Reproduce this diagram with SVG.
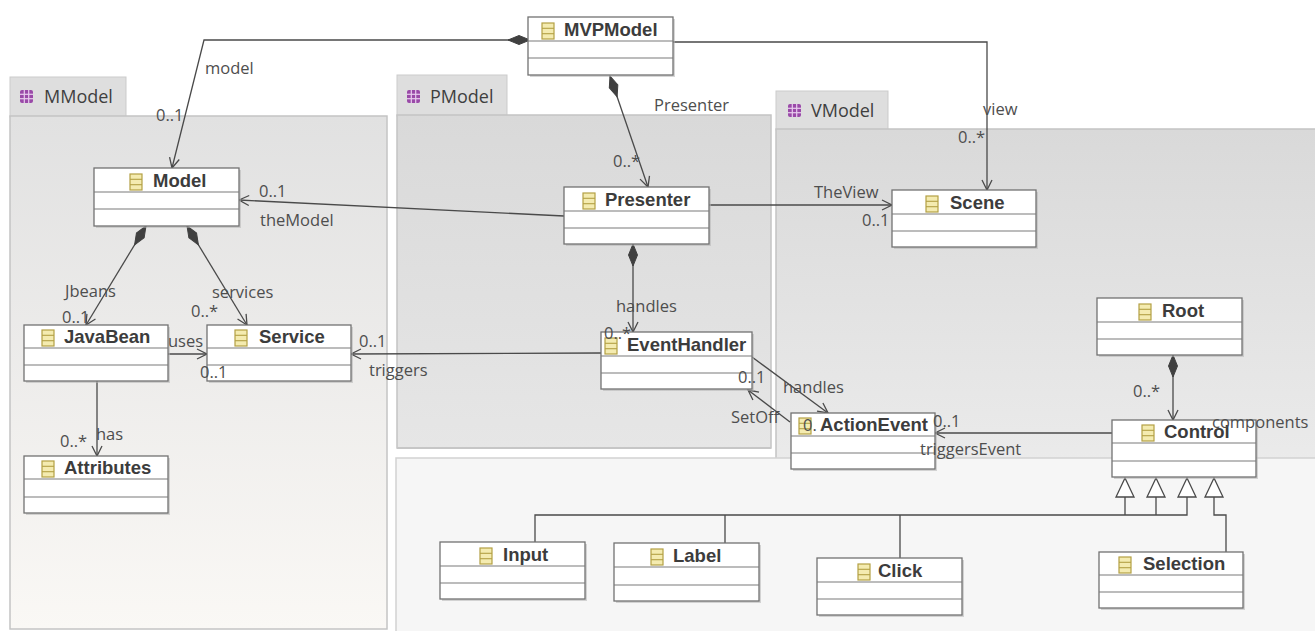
<svg xmlns="http://www.w3.org/2000/svg" xmlns:xlink="http://www.w3.org/1999/xlink" width="1315" height="631" viewBox="0 0 1315 631">
<style>
.pkg{stroke:#c4c4c4;stroke-width:1.5}
.tab{fill:#dedede;stroke:#cbcbcb;stroke-width:1}
.tabt{font-family:"Open Sans","Noto Sans",sans-serif;font-size:18px;fill:#3f3f3f}
.box{fill:#ffffff;stroke:#727272;stroke-width:1.3}
.sh{fill:#b4b4b4;opacity:0.55}
.sep{stroke:#7a7a7a;stroke-width:1.2}
.cn{font-family:"Liberation Sans",Arial,sans-serif;font-weight:bold;font-size:18.5px;fill:#3c3c3c}
.lbl{font-family:"Open Sans","Noto Sans",sans-serif;font-size:16.5px;fill:#4e4e4e}
.cx{fill:none;stroke:#4a4a4a;stroke-width:1.3}
.gen{fill:#ffffff;stroke:#4a4a4a;stroke-width:1.3}
</style>
<defs>
<linearGradient id="gM" x1="0" y1="0" x2="0" y2="1"><stop offset="0" stop-color="#e1e1e1"/><stop offset="1" stop-color="#faf8f5"/></linearGradient>
<linearGradient id="gP" x1="0" y1="0" x2="0" y2="1"><stop offset="0" stop-color="#d9d9d9"/><stop offset="1" stop-color="#e6e6e6"/></linearGradient>
<linearGradient id="gV" x1="0" y1="0" x2="0" y2="1"><stop offset="0" stop-color="#d9d9d9"/><stop offset="1" stop-color="#f4f4f4"/></linearGradient>
<g id="ci"><rect x="0" y="0" width="12" height="16" fill="#f4ebb0" stroke="#b3a044" stroke-width="1.2"/><line x1="0" y1="5.3" x2="12" y2="5.3" stroke="#b3a044" stroke-width="1.1"/><line x1="0" y1="10.7" x2="12" y2="10.7" stroke="#b3a044" stroke-width="1.1"/></g>
<g id="pi"><rect x="0" y="0" width="13" height="13" rx="2" fill="#9a4aa8"/><line x1="4.3" y1="0" x2="4.3" y2="13" stroke="#e8cdee" stroke-width="1.2"/><line x1="8.7" y1="0" x2="8.7" y2="13" stroke="#e8cdee" stroke-width="1.2"/><line x1="0" y1="4.3" x2="13" y2="4.3" stroke="#e8cdee" stroke-width="1.2"/><line x1="0" y1="8.7" x2="13" y2="8.7" stroke="#e8cdee" stroke-width="1.2"/></g>
<marker id="arr" markerUnits="userSpaceOnUse" markerWidth="14" markerHeight="14" refX="0" refY="0" orient="auto" overflow="visible"><path d="M-10,-5 L0,0 L-10,5" fill="none" stroke="#4a4a4a" stroke-width="1.3"/></marker>
<marker id="dia" markerUnits="userSpaceOnUse" markerWidth="24" markerHeight="12" refX="0" refY="0" orient="auto" overflow="visible"><path d="M0,0 L11,-4.5 L22,0 L11,4.5 Z" fill="#404040" stroke="#404040" stroke-width="1"/></marker>
</defs>
<rect width="1315" height="631" fill="#ffffff"/>
<g id="packages">
<g id="pkg-mmodel"><rect class="tab" x="10" y="77" width="116" height="40"/><rect class="pkg" x="10" y="116" width="377" height="513" fill="url(#gM)"/><use href="#pi" x="20" y="90"/><text class="tabt" x="44" y="103">MModel</text></g>
<g id="pkg-pmodel"><rect class="tab" x="397" y="75" width="110" height="41"/><rect class="pkg" x="397" y="115" width="374" height="333" fill="url(#gP)"/><use href="#pi" x="407" y="90"/><text class="tabt" x="430" y="103">PModel</text></g>
<g id="pkg-vmodel"><rect class="tab" x="776" y="91" width="112" height="39"/><rect class="pkg" x="776" y="129" width="545" height="510" fill="url(#gV)"/><use href="#pi" x="788" y="104"/><text class="tabt" x="811" y="117">VModel</text></g>
<rect x="396" y="458" width="925" height="180" fill="#f6f6f6" stroke="#d2d2d2" stroke-width="1.5"/>
<rect x="397" y="447" width="374" height="2" fill="#c6c6c6"/>
</g>
<g id="connectors">
<path class="cx" d="M508,40 L204,40 L172,168" marker-end="url(#arr)"/>
<path class="cx" d="M508,40 L528,40" marker-start="url(#dia)"/>
<path class="cx" d="M673,42 L987,42 L987,190" marker-end="url(#arr)"/>
<path class="cx" d="M610,76 L648,187" marker-start="url(#dia)" marker-end="url(#arr)"/>
<path class="cx" d="M564,216 L239,200" marker-end="url(#arr)"/>
<path class="cx" d="M709,205 L892,205" marker-end="url(#arr)"/>
<path class="cx" d="M146,226 L86,325" marker-start="url(#dia)" marker-end="url(#arr)"/>
<path class="cx" d="M187,226 L247,325" marker-start="url(#dia)" marker-end="url(#arr)"/>
<path class="cx" d="M168,354 L207,354" marker-end="url(#arr)"/>
<path class="cx" d="M97,381 L97,456" marker-end="url(#arr)"/>
<path class="cx" d="M601,353 L351,354" marker-end="url(#arr)"/>
<path class="cx" d="M633,244 L633,332" marker-start="url(#dia)" marker-end="url(#arr)"/>
<path class="cx" d="M752,357 L828,413" marker-end="url(#arr)"/>
<path class="cx" d="M790,422 L748,390" marker-end="url(#arr)"/>
<path class="cx" d="M1112,433 L935,433" marker-end="url(#arr)"/>
<path class="cx" d="M1173,355 L1173,420" marker-start="url(#dia)" marker-end="url(#arr)"/>
<path class="cx" d="M1125,497 L1125,515 M1156,497 L1156,515 M1187,497 L1187,515 L535,515 L535,542 M725,515 L725,543 M900,515 L900,558 M1214,497 L1214,515 L1226,515 L1226,552"/>
<polygon class="gen" points="1125,478 1134,497 1116,497"/>
<polygon class="gen" points="1156,478 1165,497 1147,497"/>
<polygon class="gen" points="1187,478 1196,497 1178,497"/>
<polygon class="gen" points="1214,478 1223,497 1205,497"/>
</g>
<g id="n-mvpmodel" transform="translate(528,17)"><rect class="sh" x="2" y="2" width="145" height="58"/><rect class="box" width="145" height="58"/><line class="sep" x1="0" y1="24" x2="145" y2="24"/><line class="sep" x1="0" y1="41" x2="145" y2="41"/><use href="#ci" x="14" y="6"/><text class="cn" x="36" y="19">MVPModel</text></g>
<g id="n-model" transform="translate(94,168)"><rect class="sh" x="2" y="2" width="145" height="58"/><rect class="box" width="145" height="58"/><line class="sep" x1="0" y1="24" x2="145" y2="24"/><line class="sep" x1="0" y1="41" x2="145" y2="41"/><use href="#ci" x="36" y="6"/><text class="cn" x="59" y="19">Model</text></g>
<g id="n-presenter" transform="translate(564,187)"><rect class="sh" x="2" y="2" width="145" height="57"/><rect class="box" width="145" height="57"/><line class="sep" x1="0" y1="24" x2="145" y2="24"/><line class="sep" x1="0" y1="41" x2="145" y2="41"/><use href="#ci" x="19" y="6"/><text class="cn" x="41" y="19">Presenter</text></g>
<g id="n-scene" transform="translate(892,190)"><rect class="sh" x="2" y="2" width="144" height="57"/><rect class="box" width="144" height="57"/><line class="sep" x1="0" y1="24" x2="144" y2="24"/><line class="sep" x1="0" y1="41" x2="144" y2="41"/><use href="#ci" x="34" y="6"/><text class="cn" x="58" y="19">Scene</text></g>
<g id="n-javabean" transform="translate(24,325)"><rect class="sh" x="2" y="2" width="144" height="56"/><rect class="box" width="144" height="56"/><line class="sep" x1="0" y1="23" x2="144" y2="23"/><line class="sep" x1="0" y1="40" x2="144" y2="40"/><use href="#ci" x="18" y="5"/><text class="cn" x="40" y="18">JavaBean</text></g>
<g id="n-service" transform="translate(207,325)"><rect class="sh" x="2" y="2" width="144" height="56"/><rect class="box" width="144" height="56"/><line class="sep" x1="0" y1="23" x2="144" y2="23"/><line class="sep" x1="0" y1="40" x2="144" y2="40"/><use href="#ci" x="28" y="5"/><text class="cn" x="52" y="18">Service</text></g>
<g id="n-attributes" transform="translate(24,456)"><rect class="sh" x="2" y="2" width="144" height="57"/><rect class="box" width="144" height="57"/><line class="sep" x1="0" y1="23" x2="144" y2="23"/><line class="sep" x1="0" y1="41" x2="144" y2="41"/><use href="#ci" x="18" y="5"/><text class="cn" x="40" y="18">Attributes</text></g>
<g id="n-eventhandler" transform="translate(601,332)"><rect class="sh" x="2" y="2" width="151" height="57"/><rect class="box" width="151" height="57"/><line class="sep" x1="0" y1="24" x2="151" y2="24"/><line class="sep" x1="0" y1="41" x2="151" y2="41"/><use href="#ci" x="4" y="6"/><text class="cn" x="26" y="19">EventHandler</text></g>
<g id="n-actionevent" transform="translate(791,413)"><rect class="sh" x="2" y="2" width="144" height="56"/><rect class="box" width="144" height="56"/><line class="sep" x1="0" y1="23" x2="144" y2="23"/><line class="sep" x1="0" y1="40" x2="144" y2="40"/><use href="#ci" x="8" y="5"/><text class="cn" x="29" y="18">ActionEvent</text></g>
<g id="n-root" transform="translate(1097,298)"><rect class="sh" x="2" y="2" width="145" height="57"/><rect class="box" width="145" height="57"/><line class="sep" x1="0" y1="24" x2="145" y2="24"/><line class="sep" x1="0" y1="41" x2="145" y2="41"/><use href="#ci" x="42" y="6"/><text class="cn" x="65" y="19">Root</text></g>
<g id="n-control" transform="translate(1112,420)"><rect class="sh" x="2" y="2" width="144" height="57"/><rect class="box" width="144" height="57"/><line class="sep" x1="0" y1="23" x2="144" y2="23"/><line class="sep" x1="0" y1="41" x2="144" y2="41"/><use href="#ci" x="30" y="5"/><text class="cn" x="52" y="18">Control</text></g>
<g id="n-input" transform="translate(440,542)"><rect class="sh" x="2" y="2" width="145" height="57"/><rect class="box" width="145" height="57"/><line class="sep" x1="0" y1="24" x2="145" y2="24"/><line class="sep" x1="0" y1="41" x2="145" y2="41"/><use href="#ci" x="40" y="6"/><text class="cn" x="63" y="19">Input</text></g>
<g id="n-label" transform="translate(614,543)"><rect class="sh" x="2" y="2" width="145" height="58"/><rect class="box" width="145" height="58"/><line class="sep" x1="0" y1="24" x2="145" y2="24"/><line class="sep" x1="0" y1="42" x2="145" y2="42"/><use href="#ci" x="37" y="6"/><text class="cn" x="59" y="19">Label</text></g>
<g id="n-click" transform="translate(817,558)"><rect class="sh" x="2" y="2" width="145" height="57"/><rect class="box" width="145" height="57"/><line class="sep" x1="0" y1="24" x2="145" y2="24"/><line class="sep" x1="0" y1="41" x2="145" y2="41"/><use href="#ci" x="41" y="6"/><text class="cn" x="61" y="19">Click</text></g>
<g id="n-selection" transform="translate(1099,552)"><rect class="sh" x="2" y="2" width="144" height="56"/><rect class="box" width="144" height="56"/><line class="sep" x1="0" y1="23" x2="144" y2="23"/><line class="sep" x1="0" y1="40" x2="144" y2="40"/><use href="#ci" x="20" y="5"/><text class="cn" x="44" y="18">Selection</text></g>
<g id="labels">
<text class="lbl" x="205" y="74">model</text>
<text class="lbl" x="156" y="121">0..1</text>
<text class="lbl" x="654" y="111">Presenter</text>
<text class="lbl" x="613" y="167">0..*</text>
<text class="lbl" x="983" y="115">view</text>
<text class="lbl" x="958" y="143">0..*</text>
<text class="lbl" x="259" y="197">0..1</text>
<text class="lbl" x="260" y="226">theModel</text>
<text class="lbl" x="814" y="198">TheView</text>
<text class="lbl" x="862" y="226">0..1</text>
<text class="lbl" x="65" y="297">Jbeans</text>
<text class="lbl" x="62" y="323">0..1</text>
<text class="lbl" x="212" y="298">services</text>
<text class="lbl" x="191" y="317">0..*</text>
<text class="lbl" x="168" y="347">uses</text>
<text class="lbl" x="200" y="378">0..1</text>
<text class="lbl" x="359" y="347">0..1</text>
<text class="lbl" x="369" y="376">triggers</text>
<text class="lbl" x="60" y="447">0..*</text>
<text class="lbl" x="96" y="440">has</text>
<text class="lbl" x="616" y="312">handles</text>
<text class="lbl" x="604" y="339">0..*</text>
<text class="lbl" x="738" y="383">0..1</text>
<text class="lbl" x="783" y="393">handles</text>
<text class="lbl" x="731" y="423">SetOff</text>
<text class="lbl" x="803" y="431">0.</text>
<text class="lbl" x="933" y="427">0..1</text>
<text class="lbl" x="920" y="455">triggersEvent</text>
<text class="lbl" x="1133" y="397">0..*</text>
<text class="lbl" x="1212" y="428">components</text>
</g>
</svg>
